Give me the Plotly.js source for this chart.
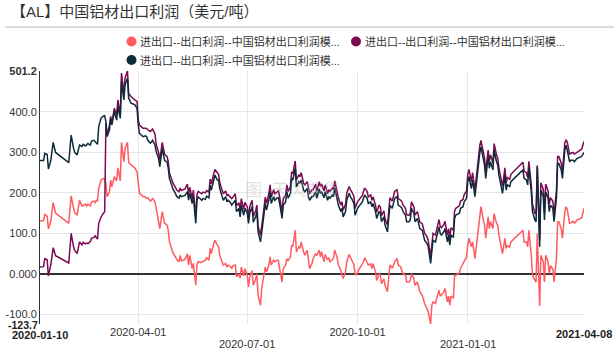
<!DOCTYPE html>
<html><head><meta charset="utf-8">
<script src="https://cdn.plot.ly/plotly-3.0.1.min.js"></script>
<style>html,body{margin:0;padding:0;background:#fff}#chart{width:614px;height:354px}</style>
</head><body><div id="chart"></div>
<script>
// ---- data ----
const dates = [
'2020-01-10','2020-01-13','2020-01-14','2020-01-16','2020-01-17','2020-01-19','2020-01-21','2020-01-23',
'2020-02-03','2020-02-05','2020-02-07','2020-02-08','2020-02-10','2020-02-11','2020-02-12','2020-02-14','2020-02-15','2020-02-17','2020-02-18','2020-02-19','2020-02-21','2020-02-22','2020-02-24','2020-02-25','2020-02-26','2020-02-27','2020-02-28','2020-02-29',
'2020-03-01','2020-03-03','2020-03-04','2020-03-05','2020-03-06','2020-03-08','2020-03-09','2020-03-10','2020-03-12','2020-03-14','2020-03-15','2020-03-17','2020-03-18','2020-03-20','2020-03-21','2020-03-23','2020-03-24','2020-03-25','2020-03-26','2020-03-29','2020-03-31',
'2020-04-01','2020-04-02','2020-04-04','2020-04-05','2020-04-07','2020-04-08','2020-04-09','2020-04-11','2020-04-12','2020-04-13','2020-04-15','2020-04-16','2020-04-18','2020-04-19','2020-04-21','2020-04-23','2020-04-25','2020-04-26','2020-04-27','2020-04-29','2020-04-30',
'2020-05-02','2020-05-03','2020-05-05','2020-05-06','2020-05-07','2020-05-09','2020-05-10','2020-05-12','2020-05-13','2020-05-14','2020-05-16','2020-05-17','2020-05-19','2020-05-20','2020-05-21','2020-05-23','2020-05-24','2020-05-25','2020-05-27','2020-05-28','2020-05-30','2020-05-31',
'2020-06-01','2020-06-03','2020-06-04','2020-06-06','2020-06-07','2020-06-08','2020-06-10','2020-06-11','2020-06-13','2020-06-14','2020-06-15','2020-06-17','2020-06-18','2020-06-19','2020-06-21','2020-06-22','2020-06-24','2020-06-25','2020-06-26','2020-06-28','2020-06-29',
'2020-07-01','2020-07-02','2020-07-03','2020-07-05','2020-07-06','2020-07-08','2020-07-09','2020-07-10','2020-07-12','2020-07-13','2020-07-14','2020-07-16','2020-07-17','2020-07-19','2020-07-20','2020-07-21','2020-07-23','2020-07-24','2020-07-26','2020-07-27','2020-07-28','2020-07-30','2020-07-31',
'2020-08-02','2020-08-03','2020-08-04','2020-08-06','2020-08-07','2020-08-08','2020-08-10','2020-08-11','2020-08-13','2020-08-14','2020-08-15','2020-08-17','2020-08-18','2020-08-20','2020-08-21','2020-08-22','2020-08-24','2020-08-25','2020-08-27','2020-08-28','2020-08-30','2020-08-31',
'2020-09-01','2020-09-03','2020-09-04','2020-09-06','2020-09-07','2020-09-08','2020-09-10','2020-09-11','2020-09-12','2020-09-14','2020-09-15','2020-09-17','2020-09-18','2020-09-19','2020-09-21','2020-09-22','2020-09-24','2020-09-25','2020-09-26','2020-09-28','2020-09-29',
'2020-10-01','2020-10-02','2020-10-03','2020-10-05','2020-10-06','2020-10-07','2020-10-09','2020-10-10','2020-10-12','2020-10-13','2020-10-14','2020-10-16','2020-10-17','2020-10-19','2020-10-20','2020-10-21','2020-10-23','2020-10-24','2020-10-26','2020-10-27','2020-10-28','2020-10-30','2020-10-31',
'2020-11-01','2020-11-03','2020-11-04','2020-11-06','2020-11-07','2020-11-08','2020-11-10','2020-11-11','2020-11-13','2020-11-14','2020-11-15','2020-11-17','2020-11-18','2020-11-20','2020-11-21','2020-11-22','2020-11-24','2020-11-25','2020-11-26','2020-11-28','2020-11-29',
'2020-12-01','2020-12-02','2020-12-03','2020-12-05','2020-12-06','2020-12-08','2020-12-09','2020-12-10','2020-12-12','2020-12-13','2020-12-15','2020-12-16','2020-12-17','2020-12-18','2020-12-20','2020-12-21','2020-12-22','2020-12-24','2020-12-25','2020-12-26','2020-12-28','2020-12-29','2020-12-31',
'2021-01-01','2021-01-02','2021-01-04','2021-01-05','2021-01-07','2021-01-08','2021-01-09','2021-01-11','2021-01-12','2021-01-14','2021-01-15','2021-01-16','2021-01-18','2021-01-19','2021-01-20','2021-01-22','2021-01-23','2021-01-25','2021-01-26','2021-01-27','2021-01-29','2021-01-30',
'2021-02-01','2021-02-02','2021-02-03','2021-02-05','2021-02-06','2021-02-16','2021-02-17','2021-02-19','2021-02-20','2021-02-21','2021-02-23','2021-02-24','2021-02-26','2021-02-27','2021-02-28',
'2021-03-01','2021-03-02','2021-03-03','2021-03-05','2021-03-06','2021-03-07','2021-03-09','2021-03-10','2021-03-11','2021-03-13','2021-03-14','2021-03-16','2021-03-17','2021-03-18','2021-03-20','2021-03-21','2021-03-23','2021-03-24','2021-03-25','2021-03-27','2021-03-28','2021-03-30','2021-03-31',
'2021-04-01','2021-04-02','2021-04-06','2021-04-08'
];
// series 1 (pink)
const seriesPink = [
131,132,147,142,111,130,176,150,
125,193,162,152,145,160,182,168,170,172,168,172,168,178,180,176,182,180,211,222,
232,236,234,224,191,203,232,215,240,230,262,230,325,277,310,325,276,272,269,262,252,
220,199,194,191,190,187,188,180,182,186,178,162,130,112,154,125,121,108,80,60,52,
42,36,30,46,32,35,36,50,22,46,13,26,-28,22,30,28,30,32,34,40,34,63,
50,75,83,71,67,46,30,22,26,17,22,18,13,20,22,-7,0,-11,17,-5,13,
-5,-32,-8,8,-28,-12,0,-53,-77,-36,-20,17,5,22,42,22,34,30,34,33,13,-20,13,
22,38,32,42,71,68,108,54,67,63,79,54,46,58,30,13,26,38,50,45,59,42,
55,30,48,35,40,30,35,40,59,40,22,9,-3,-11,5,30,48,42,38,22,-3,
2,10,15,22,30,40,30,22,25,13,25,5,-16,0,-3,-24,-12,-28,-44,-12,22,14,22,
30,38,22,17,8,0,-3,-20,-20,-16,0,-12,-28,-20,-32,-44,-53,-65,-73,-86,-94,
-123.7,-77,-69,-73,-61,-40,-55,-52,-45,-36,-69,-55,-77,-55,-60,-3,-3,0,2,14,26,30,42,
71,88,67,79,38,67,96,145,166,133,121,88,141,112,129,112,149,125,121,96,67,50,
88,63,70,66,79,108,79,79,67,108,46,-3,-16,-20,100,
-10,-79,46,30,-20,46,30,1,20,12,-20,38,129,129,112,88,154,166,160,125,126,130,126,
128,133,138,162
];
// series 2 (purple)
const seriesPurple = [
17,18,38,35,-5,22,65,45,
27,100,67,58,50,62,79,72,78,74,76,75,80,88,90,94,88,86,125,133,
141,150,154,372,343,368,389,372,409,393,430,393,496,446,484,501.2,446,442,438,430,426,
380,368,362,360,360,359,356,352,355,358,345,319,300,280,325,295,290,278,250,230,224,
214,208,203,212,206,208,210,222,196,214,186,207,140,196,204,200,198,202,200,206,202,234,
222,248,258,250,246,226,206,198,205,193,196,190,186,189,198,168,176,156,186,160,177,
165,140,166,182,142,156,170,118,96,124,140,190,174,198,220,190,208,198,204,205,190,152,186,
194,220,204,216,252,248,279,232,245,240,250,224,220,228,207,198,208,208,222,204,228,216,
222,205,220,198,208,204,212,208,230,200,188,170,178,158,172,200,216,208,204,192,162,
178,182,186,194,204,212,204,190,195,182,190,170,152,170,166,144,156,136,120,152,188,180,190,
204,208,186,182,178,170,162,146,145,150,178,166,145,154,140,128,124,108,100,92,82,
42,84,100,96,108,134,118,114,122,130,96,112,88,114,108,155,162,165,168,180,184,196,205,
246,258,228,250,208,238,266,316,330,302,286,252,306,278,294,274,322,294,286,262,232,216,
262,224,238,234,246,276,254,250,238,278,220,172,150,148,268,
156,84,225,210,150,222,205,172,188,180,148,205,290,290,274,252,324,330,326,295,298,300,296,
298,302,308,327
];
// series 3 (dark)
const seriesDark = [
280,280,298,295,259,280,325,300,
275,343,310,300,294,305,318,315,320,316,320,322,318,328,330,326,322,320,364,375,
385,390,391,376,339,356,385,368,401,380,413,384,475,430,467,483,434,428,422,418,409,
368,347,342,339,341,339,330,323,326,330,318,302,285,265,310,280,277,262,236,215,210,
199,192,187,195,191,192,194,203,182,199,174,191,125,182,190,185,182,186,184,192,188,219,
207,232,244,232,232,211,191,182,191,178,182,176,170,174,182,154,162,141,170,145,162,
150,125,150,166,128,141,154,104,79,108,125,174,158,182,203,174,191,182,188,188,174,137,170,
178,203,187,199,236,232,261,215,228,224,232,207,203,211,191,182,191,191,203,187,210,199,
203,188,203,182,191,187,195,191,213,182,170,154,162,141,154,182,199,191,187,174,145,
162,166,170,178,187,195,187,174,178,166,174,154,137,154,150,129,141,120,104,137,170,162,174,
187,191,170,166,162,154,145,129,129,133,162,150,129,137,125,112,108,92,83,75,67,
26,67,83,79,92,116,100,96,104,112,79,96,71,96,90,137,145,148,150,162,166,178,187,
228,240,211,232,191,220,248,298,314,285,269,236,290,261,277,257,306,277,269,244,215,199,
244,207,220,216,228,257,236,232,220,261,203,154,133,129,265,
140,67,207,191,133,203,187,154,170,162,129,187,273,273,257,236,306,318,306,277,281,281,277,
281,285,290,300
];
const seriesNames = ['进出口--出口利润--中国铝材出口利润模...','进出口--出口利润--中国铝材出口利润模...','进出口--出口利润--中国铝材出口利润模...'];
const seriesColors = ['#ff5b61','#7a0b50','#0f2a39'];
const xRange = ['2020-01-10','2021-04-08'];
const yRange = [-123.7, 501.2];
const xTickVals = ['2020-04-01','2020-07-01','2020-10-01','2021-01-01'];
const xTickTextTop = ['2020-04-01','','2020-10-01',''];
const xLowerLabels = ['2020-07-01','2021-01-01'];
const yTickVals = [-100,0,100,200,300,400,501.2];
const yTickText = ['-100.0','0.000','100.0','200.0','300.0','400.0','<b>501.2</b>'];
const titleText = '【AL】中国铝材出口利润（美元/吨）';

// ---- layout helpers ----
const W=614,H=354,L=40,R=30,T=71,B=30,PW=W-L-R,PH=H-T-B;
const px = x => (x-L)/PW;
const py = y => (T+PH-y)/PH;
const FONT = "'Liberation Sans', Arial, 'Noto Sans CJK SC', sans-serif";

const ys = [seriesPink, seriesPurple, seriesDark];
const traces = ys.map((y,i)=>({
  type:'scatter', mode:'lines', x:dates, y:y, name:seriesNames[i],
  line:{color:seriesColors[i], width:1.5}, showlegend:false, hoverinfo:'skip'
}));

const legendPos = [[131.5,41.5],[356,41.5],[131.5,60]];
const shapes = [
  {type:'line', xref:'paper', yref:'paper', x0:px(5), x1:px(614), y0:py(27), y1:py(27), line:{color:'#bbbbbb', width:1}}
];
const annotations = [];
legendPos.forEach((p,i)=>{
  shapes.push({type:'circle', xref:'paper', yref:'paper', xsizemode:'pixel', ysizemode:'pixel',
    xanchor:px(p[0]), yanchor:py(p[1]), x0:-5, x1:5, y0:-5, y1:5, fillcolor:seriesColors[i], line:{width:0}});
  annotations.push({xref:'paper', yref:'paper', x:px(p[0]+6.5), y:py(p[1]), xanchor:'left', yanchor:'middle',
    text:seriesNames[i], showarrow:false, font:{size:11, color:'#333', family:FONT}});
});
xLowerLabels.forEach(d=>annotations.push({xref:'x', yref:'paper', x:d, y:py(344), xanchor:'center', yanchor:'middle',
  text:d, showarrow:false, font:{size:11,color:'#333',family:FONT}}));
annotations.push({xref:'x', yref:'paper', x:xRange[0], y:py(335), xanchor:'center', yanchor:'middle', borderpad:0,
  text:'<b>'+xRange[0]+'</b>', showarrow:false, font:{size:11,color:'#222',family:FONT}});
annotations.push({xref:'x', yref:'paper', x:xRange[1], y:py(334), xanchor:'center', yanchor:'middle', borderpad:0,
  text:'<b>'+xRange[1]+'</b>', showarrow:false, font:{size:11,color:'#222',family:FONT}});
annotations.push({xref:'paper', yref:'y', x:0, y:yRange[0], xanchor:'right', yanchor:'middle', xshift:-1, yshift:-1, borderpad:0,
  text:'<b>'+yRange[0].toFixed(1)+'</b>', showarrow:false, font:{size:10.5,color:'#222',family:FONT}});
annotations.push({xref:'paper', yref:'paper', x:px(292), y:py(190), xanchor:'center', yanchor:'middle',
  text:'图  天风期货', showarrow:false, font:{size:17,color:'rgba(170,170,170,0.35)',family:FONT}});

const layout = {
  width:W, height:H, margin:{l:L,r:R,t:T,b:B}, paper_bgcolor:'#fff', plot_bgcolor:'#fff',
  font:{family:FONT, size:11, color:'#333'},
  title:{text:titleText, xref:'container', yref:'container', x:11/W, xanchor:'left', y:1-12/H, yanchor:'middle',
    pad:{l:0,r:0,t:0,b:0}, font:{size:15,color:'#333',family:FONT}},
  showlegend:false,
  xaxis:{type:'date', range:xRange, tickvals:xTickVals, ticktext:xTickTextTop, ticks:'', showline:false,
    showgrid:true, gridcolor:'#e6e6e6', gridwidth:1, zeroline:false, tickfont:{size:11,color:'#333'}, fixedrange:true},
  yaxis:{range:yRange, tickvals:yTickVals, ticktext:yTickText, ticks:'', showline:true, linecolor:'#333', linewidth:1,
    showgrid:true, gridcolor:'#e6e6e6', gridwidth:1, zeroline:true, zerolinecolor:'#333', zerolinewidth:2,
    tickfont:{size:11,color:'#333'}, fixedrange:true},
  shapes:shapes, annotations:annotations
};
Plotly.newPlot('chart', traces, layout, {displayModeBar:false, staticPlot:true});
</script></body></html>
